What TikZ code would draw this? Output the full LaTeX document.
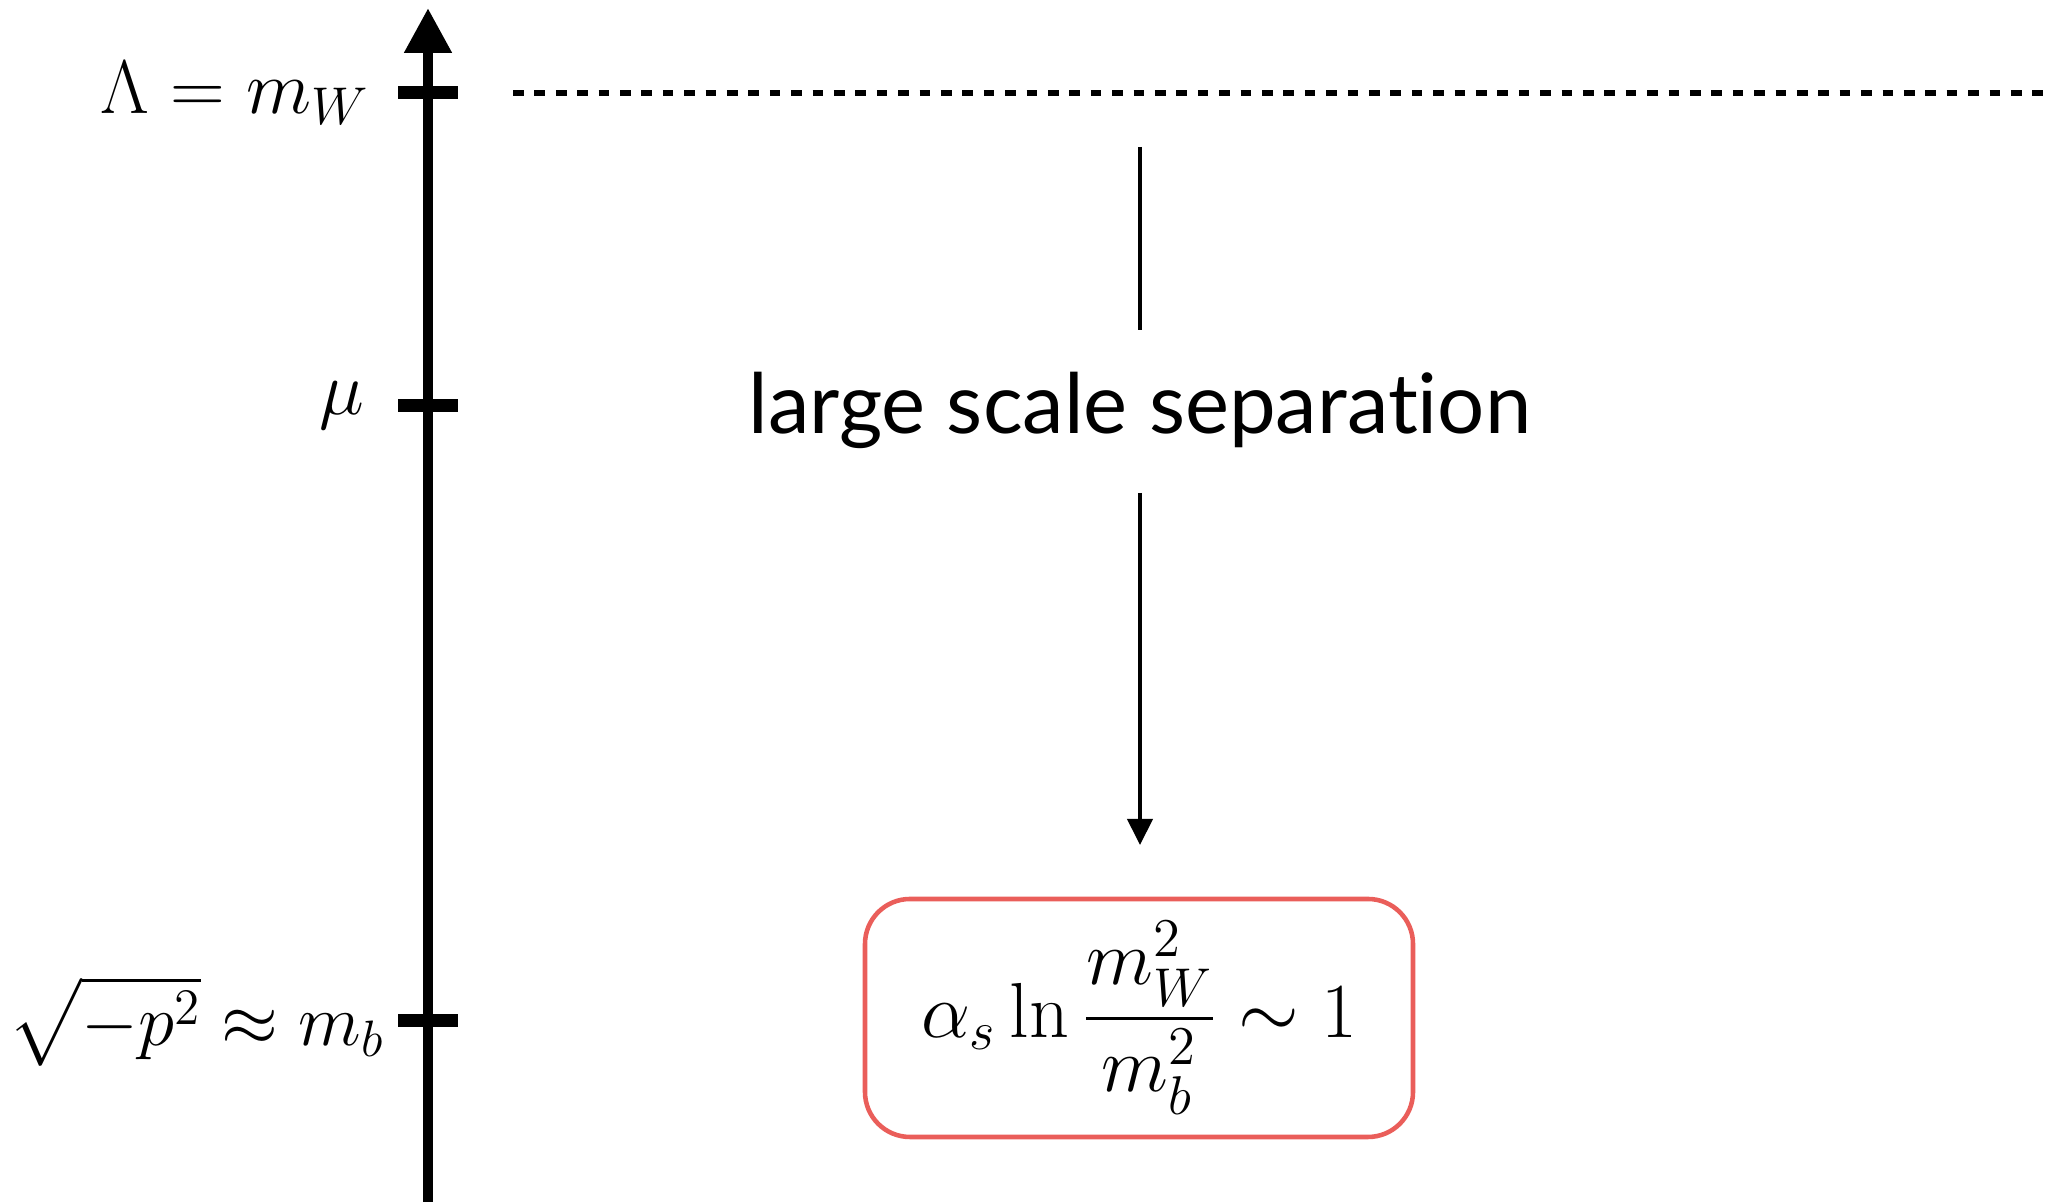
\documentclass[tikz,border=0pt]{standalone}
\usepackage{fix-cm}
\usepackage{amsmath,amssymb}
\usepackage{fontspec}
\newfontfamily\labelfont[Ligatures=NoCommon]{Lato}
\usetikzlibrary{arrows.meta}
\usetikzlibrary{positioning,shapes}
\definecolor{boxred}{RGB}{234,94,90}

\begin{document}
\begin{tikzpicture}[
    scalelabel/.style={anchor=east, inner sep=0pt, font=\fontsize{21.6}{26}\selectfont},
    tickmark/.style={line width=3.7pt},
    flowline/.style={line width=1.2pt}
  ]
  \useasboundingbox (0,0) rectangle (20.52,12.02);

  % energy axis
  \draw[line width=3.1pt, -{Triangle[length=0.45cm,width=0.45cm]}] (4.28,0) -- (4.28,11.94);

  \coordinate (tW) at (4.28,11.09);
  \coordinate (tmu) at (4.28,7.96);
  \coordinate (tb) at (4.28,1.81);
  \draw[tickmark] ([xshift=-0.3cm]tW) -- ([xshift=0.3cm]tW);
  \draw[tickmark] ([xshift=-0.3cm]tmu) -- ([xshift=0.3cm]tmu);
  \draw[tickmark] ([xshift=-0.3cm]tb) -- ([xshift=0.3cm]tb);

  \node[scalelabel] (lW) at (3.70,11.09) {$\Lambda = m_W$};
  \node[scalelabel] (lmu) at (3.65,7.96) {$\mu$};
  \node[scalelabel, font=\fontsize{20.8}{25}\selectfont] (lb) at (3.85,1.81) {$\sqrt{-p^2} \approx m_b$};

  % matching scale
  \coordinate (dstart) at (5.13,11.09);
  \coordinate (dend) at (20.52,11.09);
  \draw[line width=1.6pt, dash pattern=on 0.107cm off 0.107cm] (dstart) -- (dend);

  % separation of scales
  \node[font=\labelfont\fontsize{23.7}{28}\selectfont, inner sep=0pt] (sep) at (11.40,7.92) {large scale separation};
  \node[draw=boxred, line width=1.3pt, rounded corners=0.45cm,
        minimum width=5.48cm, minimum height=2.38cm, inner sep=0pt,
        font=\fontsize{22.2}{26}\selectfont] (logbox) at (11.39,1.84)
        {$\displaystyle \alpha_s \ln \frac{m_W^2}{m_b^2} \sim 1$};

  \coordinate (atop) at (11.40,10.55);
  \coordinate (abot) at (11.40,8.72);
  \coordinate (bstart) at (11.40,7.09);
  \coordinate (bend) at (11.40,3.57);
  \draw[flowline] (atop) -- (abot);
  \draw[flowline, -{Triangle[length=0.26cm,width=0.25cm]}] (bstart) -- (bend);
\end{tikzpicture}
\end{document}
